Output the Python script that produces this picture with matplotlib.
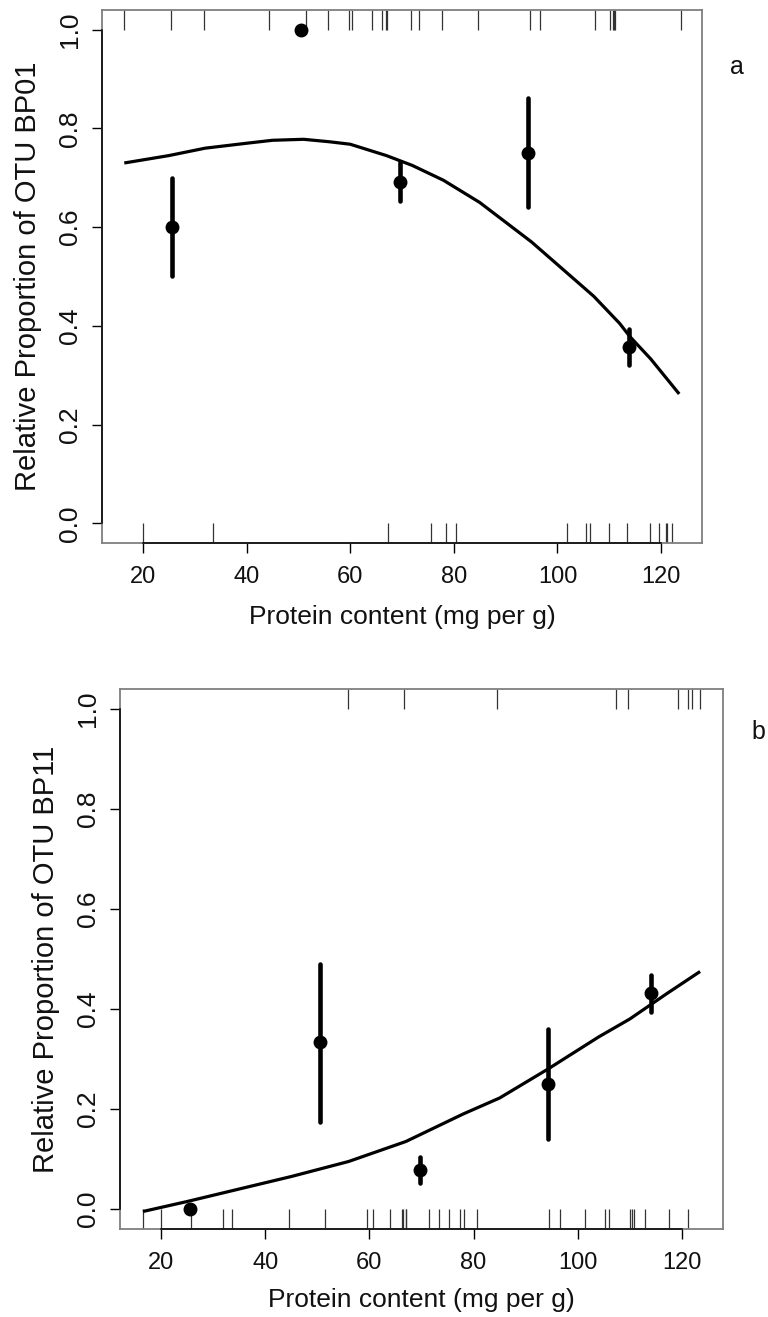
import matplotlib
matplotlib.use("Agg")
import matplotlib.pyplot as plt
import matplotlib.transforms as mtransforms

plt.rcParams['font.family'] = ['Liberation Sans', 'DejaVu Sans']

# ---------------- data ----------------
xticks = [20, 40, 60, 80, 100, 120]
yticks = [0.0, 0.2, 0.4, 0.6, 0.8, 1.0]
xlabel = "Protein content (mg per g)"

# Panel a: OTU BP01
a_ylabel = "Relative Proportion of OTU BP01"
a_pts_x = [25.6, 50.5, 69.7, 94.4, 113.9]
a_pts_y = [0.600, 1.000, 0.692, 0.750, 0.357]
a_err_lo = [0.500, 1.000, 0.653, 0.640, 0.320]
a_err_hi = [0.700, 1.000, 0.732, 0.862, 0.393]
a_curve_x = [16.4, 25, 32, 40, 45, 51, 56, 60, 67, 72, 78, 85, 95, 101, 107, 112, 114, 118, 123.5]
a_curve_y = [0.730, 0.745, 0.760, 0.770, 0.776, 0.778, 0.773, 0.768, 0.745, 0.725, 0.695,
             0.650, 0.570, 0.515, 0.460, 0.405, 0.378, 0.333, 0.262]
a_rug_top = [16.4, 25.5, 31.8, 44.3, 51.5, 55.8, 59.8, 60.4, 64.2, 66.1, 67.0, 67.2, 71.7,
             73.3, 77.7, 84.7, 94.8, 96.6, 107.3, 110.1, 110.8, 111.0, 111.2, 123.9]
a_rug_bottom = [20.0, 33.6, 67.3, 75.6, 78.4, 80.5, 101.8, 105.5, 106.3, 110.0, 113.5,
                117.9, 119.6, 121.0, 121.2, 122.2]

# Panel b: OTU BP11
b_ylabel = "Relative Proportion of OTU BP11"
b_pts_x = [25.6, 50.5, 69.8, 94.3, 114.1]
b_pts_y = [0.000, 0.335, 0.078, 0.250, 0.432]
b_err_lo = [0.000, 0.175, 0.052, 0.140, 0.394]
b_err_hi = [0.000, 0.490, 0.104, 0.360, 0.468]
b_curve_x = [16.5, 25, 35, 45, 56, 67, 78, 85, 94.3, 104, 110, 117, 123.5]
b_curve_y = [-0.005, 0.015, 0.040, 0.065, 0.095, 0.135, 0.190, 0.222, 0.280, 0.344,
             0.380, 0.430, 0.475]
b_rug_top = [55.9, 66.7, 84.5, 107.3, 109.6, 119.3, 121.2, 121.9, 123.5]
b_rug_bottom = [16.5, 20.0, 25.7, 31.8, 33.6, 44.5, 51.5, 59.6, 60.7, 64.0, 66.2, 66.5,
                67.0, 67.1, 71.4, 73.4, 75.3, 77.3, 78.2, 80.6, 94.5, 96.6, 101.4, 105.3,
                106.0, 110.0, 110.4, 110.9, 113.0, 117.6, 121.2]

# ---------------- figure ----------------
fig = plt.figure(figsize=(7.68, 13.17), dpi=100)

W, H = 768.0, 1317.0
def axes_px(left, top, right, bottom):
    return fig.add_axes([left / W, 1 - bottom / H, (right - left) / W, (bottom - top) / H])

ax_a = axes_px(102, 10, 702, 543)
ax_b = axes_px(120, 689, 723, 1229)

def draw_panel(ax, px, py, lo, hi, cx, cy, rug_top, rug_bottom, ylabel, letter,
               letter_xy, ylab_x, xlab_y):
    ax.set_xlim(12.1, 127.9)
    ax.set_ylim(-0.04, 1.04)
    ax.plot(cx, cy, color='black', lw=2.3, solid_capstyle='butt', zorder=3)
    for x, l, h in zip(px, lo, hi):
        if h > l:
            ax.plot([x, x], [l, h], color='black', lw=3.3, solid_capstyle='round', zorder=4)
    ax.plot(px, py, 'o', color='black', ms=9, zorder=5)
    ax.plot(px, py, '+', color='black', ms=8.5, mew=1.6, zorder=5)
    tr = ax.get_xaxis_transform()
    ax.vlines(rug_top, 1 - 0.037, 1.0, transform=tr, color='#333333', lw=0.9, zorder=2)
    ax.vlines(rug_bottom, 0.0, 0.037, transform=tr, color='#333333', lw=0.9, zorder=2)
    for s in ax.spines.values():
        s.set_color('#7f7f7f')
        s.set_linewidth(1.3)
    ax.plot([xticks[0], xticks[-1]], [0, 0], transform=tr, color='black', lw=1.1,
            clip_on=False, zorder=6)
    ax.plot([0, 0], [yticks[0], yticks[-1]], transform=ax.get_yaxis_transform(),
            color='black', lw=1.1, clip_on=False, zorder=6)
    ax.set_xticks(xticks)
    ax.set_xticklabels([str(v) for v in xticks])
    ax.set_yticks(yticks)
    ax.set_yticklabels([f"{v:.1f}" for v in yticks], rotation=90, va='center')
    ax.tick_params(axis='both', direction='out', length=7.5, width=1.0, color='black',
                   colors='#111111')
    ax.tick_params(axis='x', pad=9, labelsize=17)
    ax.tick_params(axis='y', pad=7, labelsize=19)
    ax.set_xlabel(xlabel, fontsize=19, color='#111111')
    ax.set_ylabel(ylabel, fontsize=21, color='#111111')
    # label positions in figure pixels
    ax.xaxis.set_label_coords(0.5, 1 - xlab_y / H,
                              transform=mtransforms.blended_transform_factory(ax.transAxes, fig.transFigure))
    ax.xaxis.label.set_va('center')
    ax.yaxis.set_label_coords(ylab_x / W, 0.5,
                              transform=mtransforms.blended_transform_factory(fig.transFigure, ax.transAxes))
    ax.yaxis.label.set_ha('center')
    ax.yaxis.label.set_va('center')
    fig.text(letter_xy[0] / W, 1 - letter_xy[1] / H, letter, fontsize=18,
             ha='center', va='center', color='#111111')

draw_panel(ax_a, a_pts_x, a_pts_y, a_err_lo, a_err_hi, a_curve_x, a_curve_y,
           a_rug_top, a_rug_bottom, a_ylabel, 'a', (737, 67), 28, 617)
draw_panel(ax_b, b_pts_x, b_pts_y, b_err_lo, b_err_hi, b_curve_x, b_curve_y,
           b_rug_top, b_rug_bottom, b_ylabel, 'b', (758, 732), 46, 1300)

fig.savefig("out.png", dpi=100)
